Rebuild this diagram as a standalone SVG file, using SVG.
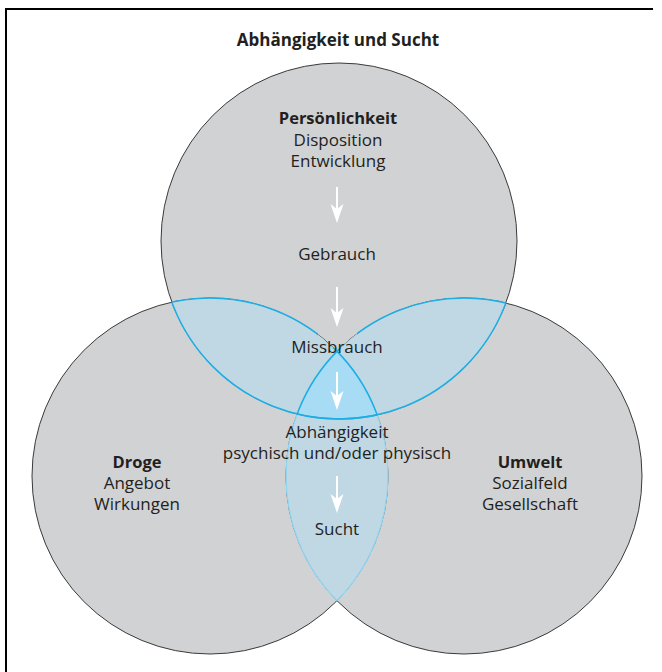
<svg xmlns="http://www.w3.org/2000/svg" xmlns:xlink="http://www.w3.org/1999/xlink" width="662" height="672" viewBox="0 0 662 672">
  <style>
    .circ { fill: #d1d2d4; stroke: none; }
    .edge { fill: none; stroke: #3a3a3a; stroke-width: 1; }
    .lens { fill: #bfd8e4; }
    .triple { fill: #a8dcf5; }
    .cy { fill: none; stroke: #1eaee4; stroke-width: 1.5; }
    .lcy { fill: none; stroke: #8ed6f3; stroke-width: 1.2; }
    text { font-family: "Open Sans", "Noto Sans", "Liberation Sans", sans-serif; fill: #231f20; text-anchor: middle; font-size: 17px; }
    .b { font-weight: bold; font-size: 16.5px; }
    .t { font-weight: bold; font-size: 17px; }
    .arr { stroke: #ffffff; stroke-width: 2; fill: none; }
    .head { fill: #ffffff; stroke: none; }
  </style>
  <defs>
    <clipPath id="cT"><circle cx="339" cy="241" r="178"/></clipPath>
    <clipPath id="cL"><circle cx="210" cy="476" r="178"/></clipPath>
    <clipPath id="cR"><circle cx="464" cy="476" r="178"/></clipPath>
    <mask id="gap" maskUnits="userSpaceOnUse" x="0" y="0" width="662" height="672">
      <rect x="0" y="0" width="662" height="672" fill="#fff"/>
      <rect x="318" y="325" width="39" height="23" fill="#000"/>
    </mask>
    <path id="ah" d="M -6.5 -19 L 0 0 L 6.5 -19 L 0 -14 Z"/>
  </defs>

  <!-- frame -->
  <g id="frame">
    <path d="M 6 672 L 6 9 L 653 9" fill="none" stroke="#000" stroke-width="2"/>
  </g>

  <text class="t" x="338" y="46">Abhängigkeit und Sucht</text>

  <!-- circle fills -->
  <g id="persoenlichkeit-circle"><circle class="circ" cx="339" cy="241" r="178"/></g>
  <g id="droge-circle"><circle class="circ" cx="210" cy="476" r="178"/></g>
  <g id="umwelt-circle"><circle class="circ" cx="464" cy="476" r="178"/></g>

  <!-- dark outlines -->
  <g id="outlines">
    <circle class="edge" cx="339" cy="241" r="178"/>
    <circle class="edge" cx="210" cy="476" r="178"/>
    <circle class="edge" cx="464" cy="476" r="178"/>
  </g>

  <!-- overlaps -->
  <g id="overlaps">
    <circle class="lens" cx="210" cy="476" r="178" clip-path="url(#cT)"/>
    <circle class="lens" cx="464" cy="476" r="178" clip-path="url(#cT)"/>
    <circle class="lens" cx="464" cy="476" r="178" clip-path="url(#cL)"/>
    <g clip-path="url(#cT)">
      <circle class="triple" cx="464" cy="476" r="178" clip-path="url(#cL)"/>
    </g>
  </g>

  <!-- overlap outlines -->
  <g id="overlap-outlines">
    <circle class="lcy" cx="210" cy="476" r="178" clip-path="url(#cR)"/>
    <circle class="lcy" cx="464" cy="476" r="178" clip-path="url(#cL)"/>
    <g mask="url(#gap)">
      <circle class="cy" cx="339" cy="241" r="178" clip-path="url(#cL)"/>
      <circle class="cy" cx="339" cy="241" r="178" clip-path="url(#cR)"/>
      <circle class="cy" cx="210" cy="476" r="178" clip-path="url(#cT)"/>
      <circle class="cy" cx="464" cy="476" r="178" clip-path="url(#cT)"/>
    </g>
  </g>

  <!-- labels -->
  <g id="persoenlichkeit">
    <text class="b" x="338" y="124">Persönlichkeit</text>
    <text x="338" y="146">Disposition</text>
    <text x="338" y="167">Entwicklung</text>
  </g>
  <g id="droge">
    <text class="b" x="137" y="468">Droge</text>
    <text x="137" y="489">Angebot</text>
    <text x="137" y="510">Wirkungen</text>
  </g>
  <g id="umwelt">
    <text class="b" x="530" y="468">Umwelt</text>
    <text x="530" y="489">Sozialfeld</text>
    <text x="530" y="510">Gesellschaft</text>
  </g>
  <g id="gebrauch"><text x="337" y="260">Gebrauch</text></g>
  <g id="missbrauch"><text x="337" y="353">Missbrauch</text></g>
  <g id="abhaengigkeit">
    <text x="337" y="438">Abhängigkeit</text>
    <text x="337" y="459">psychisch und/oder physisch</text>
  </g>
  <g id="sucht"><text x="337" y="535">Sucht</text></g>

  <!-- connectors -->
  <g id="connectors">
    <line class="arr" x1="337" y1="187" x2="337" y2="212"/>
    <use href="#ah" xlink:href="#ah" class="head" transform="translate(337 223)"/>
    <line class="arr" x1="337" y1="287" x2="337" y2="316"/>
    <use href="#ah" xlink:href="#ah" class="head" transform="translate(337 327)"/>
    <line class="arr" x1="337" y1="372" x2="337" y2="399"/>
    <use href="#ah" xlink:href="#ah" class="head" transform="translate(337 410)"/>
    <line class="arr" x1="337" y1="476" x2="337" y2="502"/>
    <use href="#ah" xlink:href="#ah" class="head" transform="translate(337 513)"/>
  </g>
</svg>
